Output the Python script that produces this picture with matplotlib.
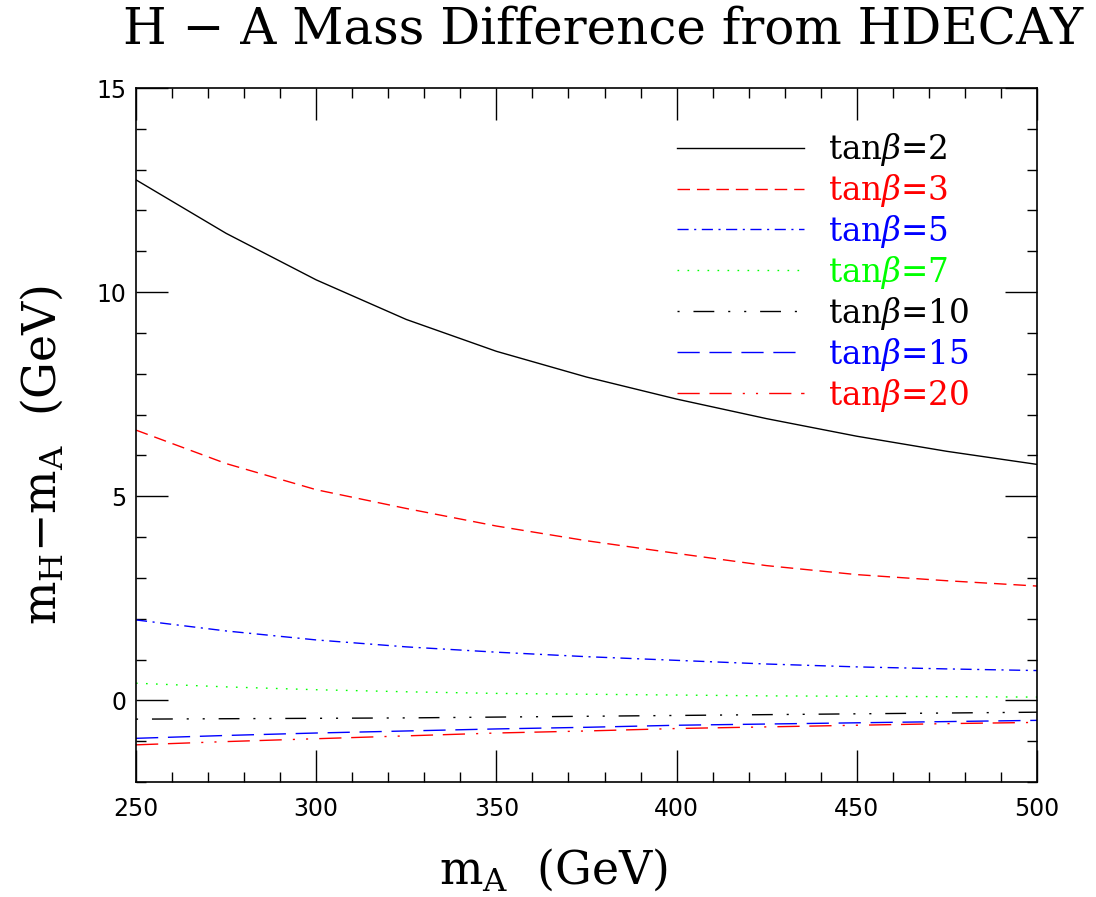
import numpy as np
import matplotlib
matplotlib.use("Agg")
from matplotlib import pyplot as plt
from matplotlib.ticker import MultipleLocator

plt.rcParams['font.family'] = ['DejaVu Serif']
plt.rcParams['mathtext.fontset'] = 'dejavuserif'

# m_A grid (GeV)
mA = np.array([250, 275, 300, 325, 350, 375, 400, 425, 450, 475, 500])

# m_H - m_A (GeV) for each tan(beta)
tb2 = np.array([12.75, 11.44, 10.30, 9.33, 8.55, 7.92, 7.38, 6.90, 6.47, 6.10, 5.78])
tb3 = np.array([6.62, 5.80, 5.16, 4.70, 4.27, 3.91, 3.60, 3.30, 3.08, 2.93, 2.80])
tb5 = np.array([1.97, 1.70, 1.48, 1.31, 1.18, 1.07, 0.98, 0.89, 0.82, 0.77, 0.73])
tb7 = np.array([0.42, 0.33, 0.26, 0.21, 0.17, 0.15, 0.13, 0.11, 0.10, 0.09, 0.08])
tb10 = np.array([-0.46, -0.45, -0.44, -0.43, -0.41, -0.39, -0.37, -0.35, -0.33, -0.31, -0.29])
tb15 = np.array([-0.93, -0.86, -0.80, -0.75, -0.70, -0.66, -0.61, -0.58, -0.55, -0.52, -0.49])
tb20 = np.array([-1.09, -1.01, -0.94, -0.87, -0.80, -0.75, -0.69, -0.65, -0.61, -0.57, -0.54])

labels = ['2', '3', '5', '7', '10', '15', '20']
series = [tb2, tb3, tb5, tb7, tb10, tb15, tb20]
colors = ['black', 'red', 'blue', '#00ff00', 'black', 'blue', 'red']
styles = ['-', (0, (9, 5)), (0, (8, 4, 1.5, 4)), (0, (1.2, 6)),
          (36.5, (15, 10, 1.5, 10, 1.5, 10)), (0, (16, 7)),
          (0, (16, 7, 16, 8, 1.5, 8, 1.5, 8))]

fig = plt.figure(figsize=(10.96, 8.97), dpi=100)
ax = fig.add_axes([136/1096, 1-782/897, 901/1096, 694/897])

for y, lab, c, ls in zip(series, labels, colors, styles):
    ax.plot(mA, y, color=c, linestyle=ls, lw=1.0,
            label=r'tan$\beta$=' + lab)

ax.set_xlim(250, 500)
ax.set_ylim(-2, 15)
ax.xaxis.set_major_locator(MultipleLocator(50))
ax.xaxis.set_minor_locator(MultipleLocator(10))
ax.yaxis.set_major_locator(MultipleLocator(5))
ax.yaxis.set_minor_locator(MultipleLocator(1))
ax.tick_params(which='both', direction='in', top=True, right=True, width=1.0)
ax.tick_params(which='major', length=23)
ax.tick_params(which='minor', length=7.5)
ax.tick_params(axis='x', pad=11)
ax.tick_params(axis='y', pad=7)
for t in ax.get_xticklabels() + ax.get_yticklabels():
    t.set_fontfamily('DejaVu Sans')
    t.set_fontsize(17)
for s in ax.spines.values():
    s.set_linewidth(1.2)

leg = ax.legend(loc='upper left', bbox_to_anchor=(0.600, 0.938),
                frameon=False, fontsize=23.5, handlelength=3.9,
                handletextpad=0.75, labelspacing=0.12,
                borderpad=0, borderaxespad=0, labelcolor=colors)

fig.text(603/1096, 1-30/897, 'H \u2212 A Mass Difference from HDECAY',
         fontsize=36, ha='center', va='center')
fig.text(553/1096, 1-870/897, r'm$_\mathrm{A}$  (GeV)',
         fontsize=33, ha='center', va='center')
fig.text(42/1096, 1-455/897, 'm$_\\mathrm{H}$\u2212m$_\\mathrm{A}$  (GeV)',
         fontsize=33, ha='center', va='center', rotation=90)

fig.savefig('out.png', dpi=100)
